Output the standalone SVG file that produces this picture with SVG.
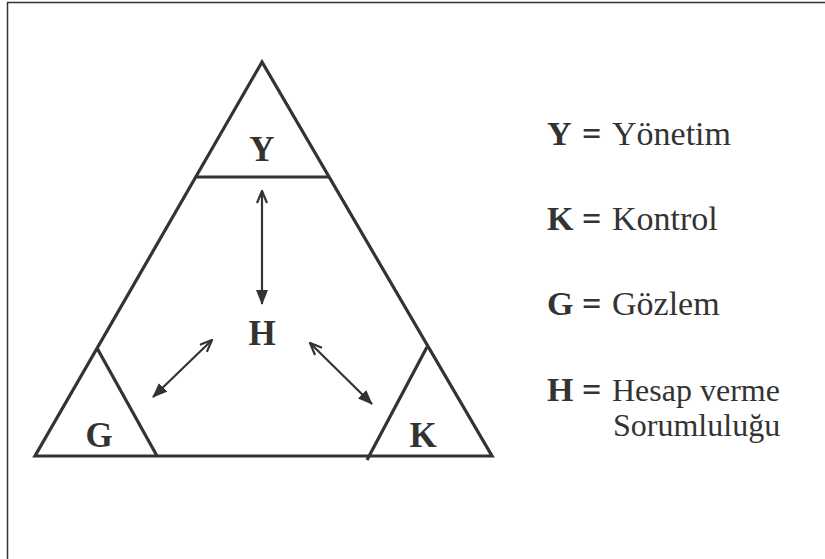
<svg xmlns="http://www.w3.org/2000/svg" width="825" height="559" viewBox="0 0 825 559">
<style>
.ln{stroke:#333;stroke-width:3.2;fill:none;stroke-linecap:butt}
.ar{stroke:#333;stroke-width:2.2;fill:none}
.lt{font-family:"Liberation Serif","DejaVu Serif",serif;font-weight:bold;font-size:35px;fill:#333;text-anchor:middle}
.lb{font-family:"Liberation Serif","DejaVu Serif",serif;font-weight:bold;font-size:34px;fill:#333}
.lr{font-family:"Liberation Serif","DejaVu Serif",serif;font-size:34px;fill:#333}
.sm{font-size:32px}
</style>
<defs>
<marker id="fill" viewBox="0 0 15 12" refX="14" refY="6" markerWidth="15" markerHeight="12" markerUnits="userSpaceOnUse" orient="auto">
<path d="M0,0 L15,6 L0,12 Z" fill="#333"/>
</marker>
<marker id="open" viewBox="0 0 14 12" refX="13" refY="6" markerWidth="14" markerHeight="12" markerUnits="userSpaceOnUse" orient="auto-start-reverse">
<path d="M1,1 L13,6 L1,11" fill="none" stroke="#333" stroke-width="2.2"/>
</marker>
</defs>
<rect x="7.5" y="2.5" width="830" height="570" fill="#fff" stroke="#333" stroke-width="1.5"/>
<g id="triangle">
<path class="ln" d="M262,62 L35,456 L492,456 Z" stroke-linejoin="miter"/>
<line class="ln" x1="196" y1="177" x2="329" y2="177"/>
<line class="ln" x1="97" y1="348" x2="157" y2="456"/>
<line class="ln" x1="427" y1="347" x2="367" y2="460"/>
</g>
<g id="node-Y"><text class="lt" x="262" y="161">Y</text></g>
<g id="node-H"><text class="lt" x="262" y="345">H</text></g>
<g id="node-G"><text class="lt" x="99" y="447">G</text></g>
<g id="node-K"><text class="lt" x="423" y="447">K</text></g>
<g id="connectors">
<line class="ar" x1="262" y1="191" x2="262" y2="304" marker-start="url(#open)" marker-end="url(#fill)"/>
<line class="ar" x1="212" y1="340" x2="153" y2="397" marker-start="url(#open)" marker-end="url(#fill)"/>
<line class="ar" x1="310" y1="343" x2="372" y2="404" marker-start="url(#open)" marker-end="url(#fill)"/>
</g>
<g id="legend">
<text class="lb" x="547" y="145">Y</text><text class="lb" x="582" y="145">=</text><text class="lr" x="612" y="145">Yönetim</text>
<text class="lb" x="547" y="230">K</text><text class="lb" x="582" y="230">=</text><text class="lr" x="612" y="230">Kontrol</text>
<text class="lb" x="547" y="315">G</text><text class="lb" x="582" y="315">=</text><text class="lr" x="612" y="315">Gözlem</text>
<text class="lb" x="547" y="401">H</text><text class="lb" x="582" y="401">=</text><text class="lr sm" x="612" y="401">Hesap verme</text>
<text class="lr sm" x="613" y="436">Sorumluluğu</text>
</g>
</svg>
